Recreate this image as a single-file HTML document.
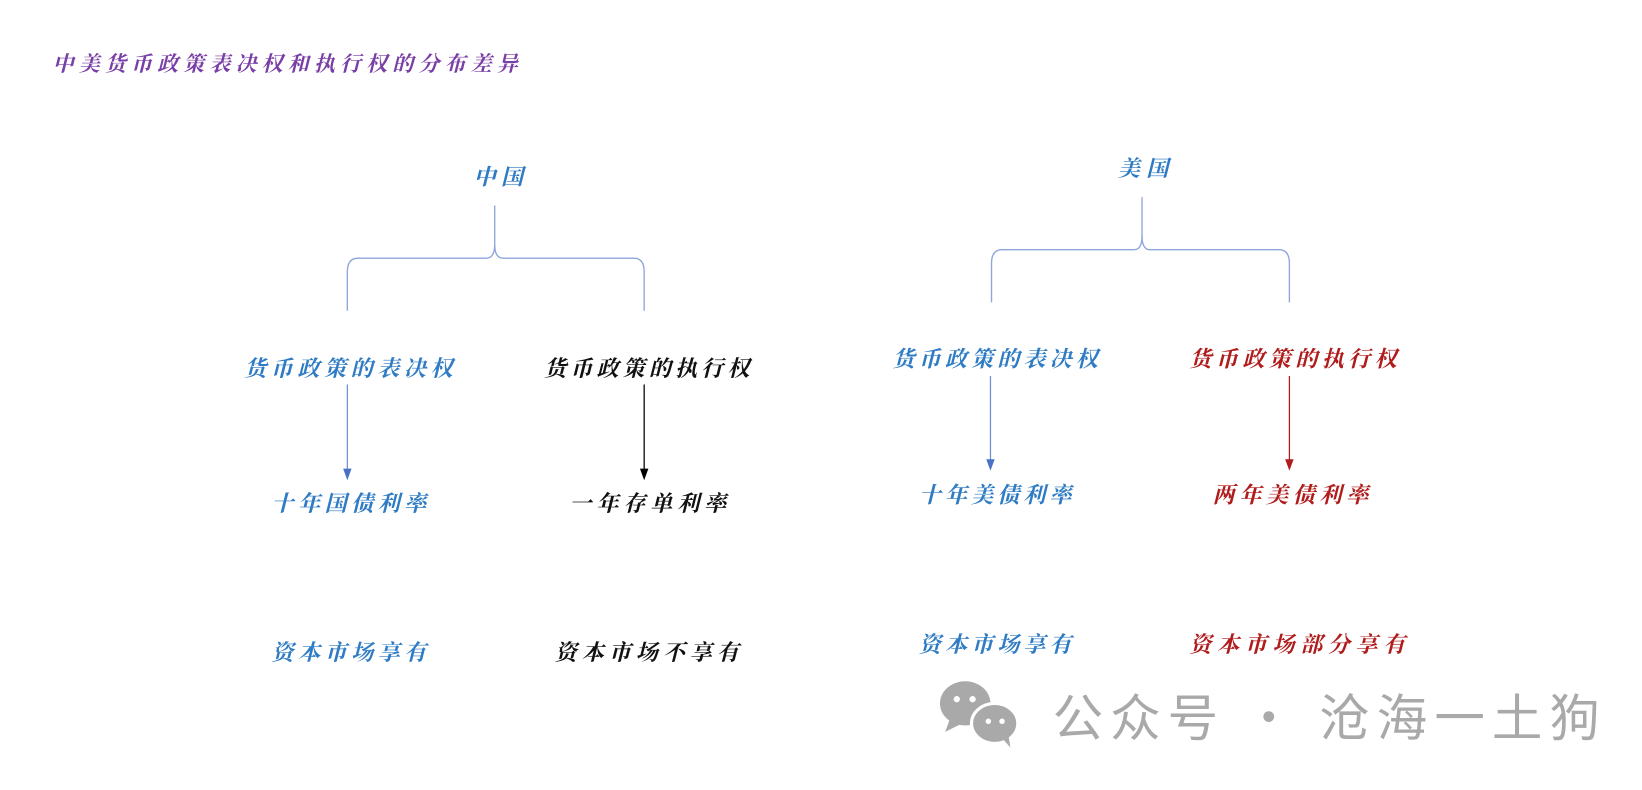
<!DOCTYPE html>
<html><head><meta charset="utf-8"><style>
html,body{margin:0;padding:0;background:#fff;}
svg{display:block;}
text{font-family:"Liberation Serif","Noto Serif CJK SC",serif;font-style:italic;font-weight:bold;}
</style></head><body>
<svg width="1642" height="790" viewBox="0 0 1560 750" xmlns="http://www.w3.org/2000/svg">
<text x="50" y="67" font-size="20" fill="#7a3fa6" textLength="442">中美货币政策表决权和执行权的分布差异</text>

<g fill="none" stroke="#8fa6dd" stroke-width="1.3">
<path d="M470,195 V232 Q470,245 462,245 H340 Q330,245 330,258 V295"/>
<path d="M470,232 Q470,245 478,245 H602 Q612,245 612,258 V295"/>
<path d="M1085,187 V224 Q1085,237 1077,237 H952 Q942,237 942,250 V287"/>
<path d="M1085,224 Q1085,237 1093,237 H1215 Q1225,237 1225,250 V287"/>
</g>
<text x="450" y="175" font-size="21" fill="#2f7cc4" textLength="47">中国</text>
<text x="1062" y="167" font-size="21" fill="#2f7cc4" textLength="48">美国</text>

<g font-size="21">
<text x="232" y="357" fill="#2f7cc4" textLength="198">货币政策的表决权</text>
<text x="517" y="357" fill="#111" textLength="195">货币政策的执行权</text>
<text x="848" y="348" fill="#2f7cc4" textLength="195">货币政策的表决权</text>
<text x="1130" y="348" fill="#b01c1c" textLength="197">货币政策的执行权</text>

<text x="258" y="485" fill="#2f7cc4" textLength="147">十年国债利率</text>
<text x="541" y="485" fill="#111" textLength="149">一年存单利率</text>
<text x="873" y="477" fill="#2f7cc4" textLength="145">十年美债利率</text>
<text x="1152" y="477" fill="#b01c1c" textLength="148">两年美债利率</text>

<text x="258" y="627" fill="#2f7cc4" textLength="147">资本市场享有</text>
<text x="527" y="627" fill="#111" textLength="175">资本市场不享有</text>
<text x="873" y="619" fill="#2f7cc4" textLength="145">资本市场享有</text>
<text x="1130" y="619" fill="#b01c1c" textLength="205">资本市场部分享有</text>
</g>

<line x1="330" y1="365" x2="330" y2="447" stroke="#6f8fd6" stroke-width="1.2"/>
<path d="M326,445 L334,445 L330,456 Z" fill="#4a72c4"/>
<line x1="612" y1="365" x2="612" y2="447" stroke="#000" stroke-width="1.2"/>
<path d="M608,445 L616,445 L612,456 Z" fill="#000"/>
<line x1="941" y1="357" x2="941" y2="438" stroke="#6f8fd6" stroke-width="1.2"/>
<path d="M937,436 L945,436 L941,447 Z" fill="#4a72c4"/>
<line x1="1225" y1="357" x2="1225" y2="438" stroke="#b01c1c" stroke-width="1.2"/>
<path d="M1221,436 L1229,436 L1225,447 Z" fill="#b01c1c"/>

<g fill="#a9a9a9">
<ellipse cx="917" cy="668" rx="24" ry="21"/>
<path d="M902,684 L898,695 L912,688 Z"/>
<ellipse cx="945" cy="687" rx="22" ry="19" stroke="#fff" stroke-width="3"/>
<path d="M952,701 L960,710 L958,698 Z"/>
</g>
<g fill="#fff"><circle cx="909" cy="664" r="3"/><circle cx="924" cy="664" r="3"/><circle cx="939" cy="685" r="2.6"/><circle cx="952" cy="685" r="2.6"/></g>
<text x="1000" y="699" font-size="48" fill="#a9a9a9" style="font-family:'Noto Sans CJK SC',sans-serif;font-style:normal;font-weight:normal" textLength="520">公众号 · 沧海一土狗</text>
</svg>
</body></html>
